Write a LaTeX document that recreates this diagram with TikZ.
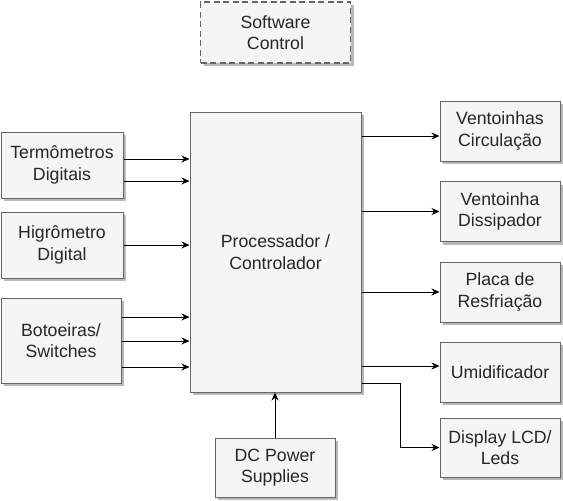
\documentclass[tikz,border=0pt]{standalone}
\usepackage{fontspec}
\setmainfont{Liberation Sans}
\usetikzlibrary{shadows,arrows.meta,calc}
\definecolor{boxfill}{HTML}{F5F5F5}
\definecolor{boxline}{HTML}{666666}
\begin{document}
\begin{tikzpicture}[x=1pt,y=-1pt,
  box/.style={draw=boxline, fill=boxfill, line width=1pt, align=center, inner sep=0pt,
    font=\fontsize{17.7}{21.5}\selectfont, text=black!85,
    drop shadow={shadow xshift=3pt, shadow yshift=-3pt, fill=black!28, opacity=1}},
  conn/.style={-{Stealth[length=8pt,width=7pt]}, line width=1pt}]
\useasboundingbox (0,0) rectangle (563,501);
\fill[white] (0,0) rectangle (563,501);

\node[box, line width=1.5pt, dash pattern=on 6pt off 3.5pt, minimum width=150pt, minimum height=61pt] (sw) at (275.5,32.5) {Software\\Control};
\node[box, minimum width=171pt, minimum height=280pt] (proc) at (275.5,252) {Processador /\\Controlador};

\node[box, minimum width=122pt, minimum height=66pt] (term) at (62,165) {Termômetros\\Digitais};
\node[box, minimum width=122pt, minimum height=66pt] (hig) at (62,245) {Higrômetro\\Digital};
\node[box, minimum width=120pt, minimum height=85pt] (bot) at (61,340.5) {Botoeiras/\\Switches};

\node[box, minimum width=120pt, minimum height=60pt] (vent) at (500,131) {Ventoinhas\\Circulação};
\node[box, minimum width=120pt, minimum height=60pt] (diss) at (500,211.5) {Ventoinha\\Dissipador};
\node[box, minimum width=120pt, minimum height=60pt] (placa) at (500,292) {Placa de\\Resfriação};
\node[box, minimum width=120pt, minimum height=60pt] (umid) at (500,372) {Umidificador};
\node[box, minimum width=120pt, minimum height=59pt] (disp) at (500,447.5) {Display LCD/\\Leds};

\node[box, minimum width=120pt, minimum height=59pt] (dc) at (275,467.5) {DC Power\\Supplies};

% inputs
\coordinate (t1) at ($(term.east)+(0,-6)$);
\coordinate (t2) at ($(term.east)+(0,16)$);
\coordinate (b1) at ($(bot.east)+(0,-23.5)$);
\coordinate (b2) at ($(bot.east)+(0,0.5)$);
\coordinate (b3) at ($(bot.east)+(0,26.5)$);
\draw[conn] (t1) -- (t1 -| proc.west);
\draw[conn] (t2) -- (t2 -| proc.west);
\draw[conn] (hig.east) -- (hig.east -| proc.west);
\draw[conn] (b1) -- (b1 -| proc.west);
\draw[conn] (b2) -- (b2 -| proc.west);
\draw[conn] (b3) -- (b3 -| proc.west);

% outputs
\coordinate (v1) at ($(vent.west)+(0,5)$);
\coordinate (u1) at ($(umid.west)+(0,-6)$);
\coordinate (d0) at ($(proc.south east)+(0,-9)$);
\draw[conn] (proc.east |- v1) -- (v1);
\draw[conn] (proc.east |- diss.west) -- (diss.west);
\draw[conn] (proc.east |- placa.west) -- (placa.west);
\draw[conn] (proc.east |- u1) -- (u1);
\draw[conn] (d0) -- ++(39,0) |- (disp.west);

\draw[conn] (dc.north) -- (dc.north |- proc.south);
\end{tikzpicture}
\end{document}
